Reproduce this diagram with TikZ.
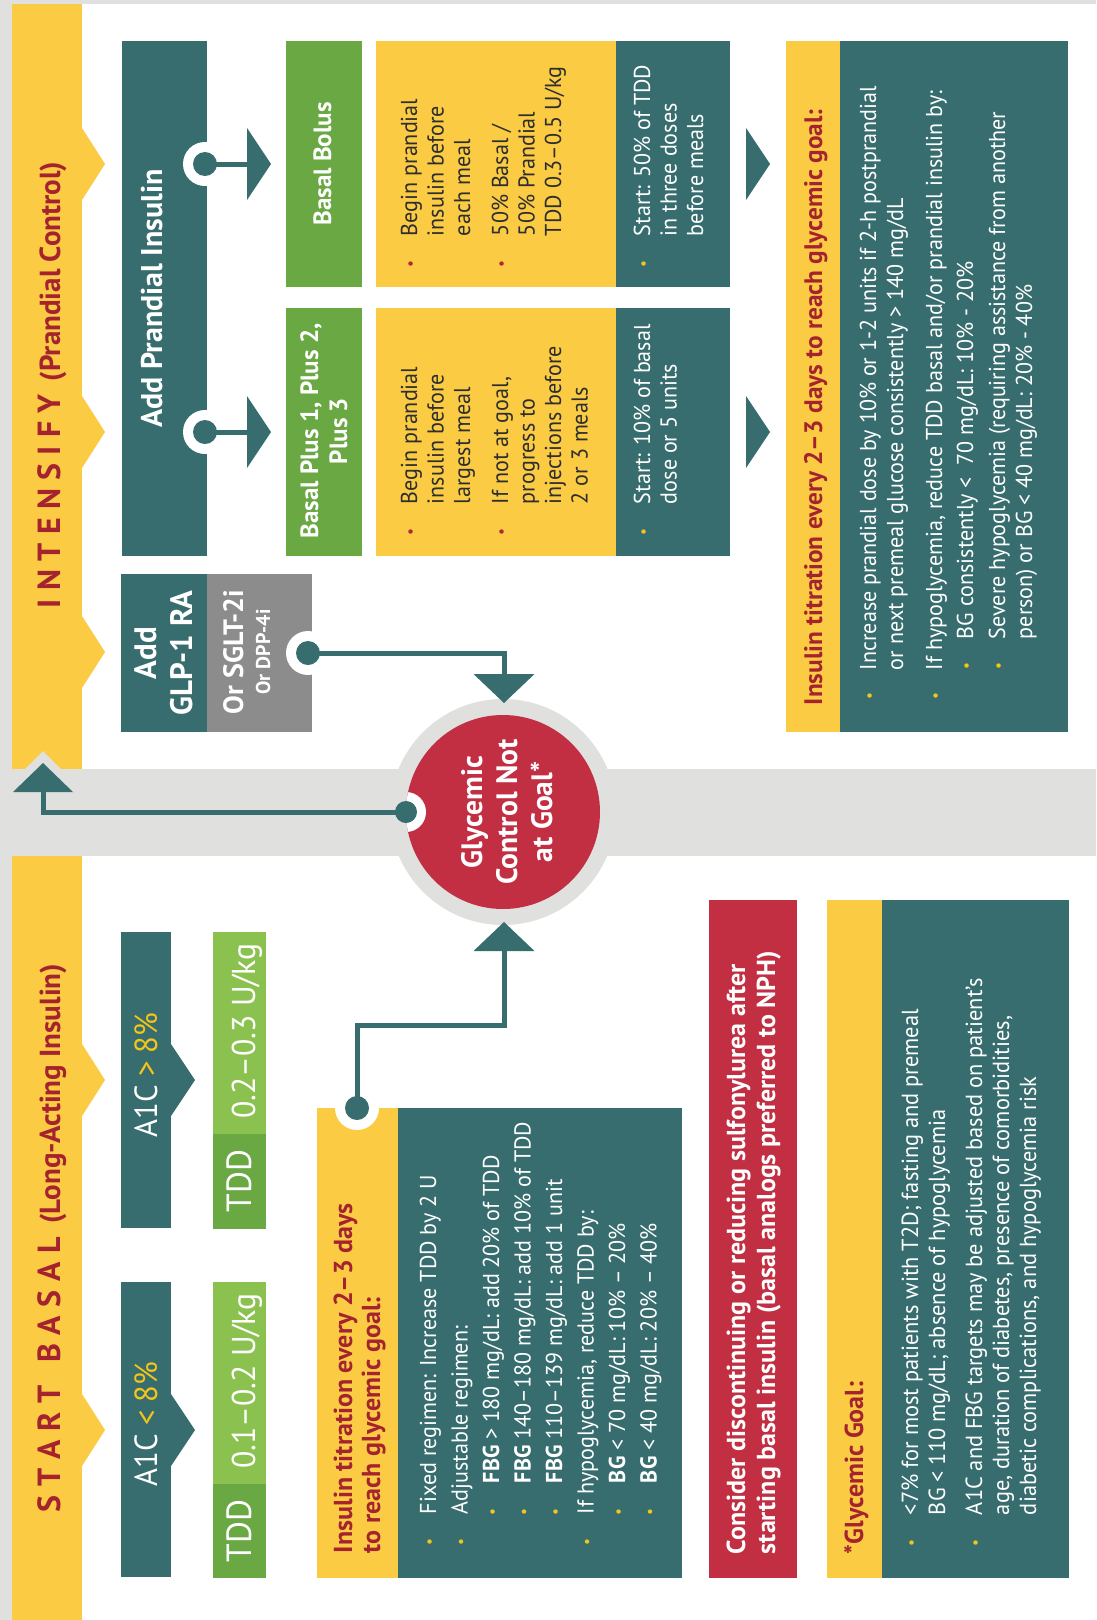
\documentclass[tikz,border=0pt]{standalone}
\usepackage{fontspec}
\setmainfont{PT Sans}[FakeStretch=0.96]
\newfontfamily\hdfont{PT Sans}
\definecolor{cTeal}{HTML}{376D6E}
\definecolor{cYel}{HTML}{FACB43}
\definecolor{cGreen}{HTML}{6AA843}
\definecolor{cLGreen}{HTML}{8BC24F}
\definecolor{cGray}{HTML}{8C8C8C}
\definecolor{cRed}{HTML}{C22F43}
\definecolor{cDRed}{HTML}{A5232F}
\definecolor{cBand}{HTML}{E0E0DE}
\definecolor{cBulY}{HTML}{F5C518}
\definecolor{cBulR}{HTML}{B3233A}
\definecolor{cInk}{HTML}{2E2E2E}
\newcommand\fs[2]{\fontsize{#1pt}{#2pt}\selectfont}
\newcommand\dotb[1]{\hbox to 0pt{\hss\textcolor{#1}{\fs{16}{16}\raisebox{1.5pt}{\textbullet}}\hss}}
\newcommand\Lines[2]{\vtop{\baselineskip=#1\lineskiplimit=-1000pt\relax #2}}
\newcommand\CL[1]{\hbox to 0pt{\hss#1\hss}}
\newdimen\dA \newdimen\dB \newdimen\dC
\newcommand\Itm[2][cBulY]{\hbox{\dotb{#1}\hskip\dA #2}}
\newcommand\Cnt[1]{\hbox{\hskip\dA #1}}
\newcommand\Sub[2][cBulY]{\hbox{\hskip\dB\dotb{#1}\hskip\dC #2}}
\newcommand\SubC[1]{\hbox{\hskip\dB\hskip\dC #1}}
\newcommand\bx[6]{\node[box,fill=#2,minimum width={#5-#3},minimum height={#6-#4}] (#1) at ({(#3+#5)/2},{(#4+#6)/2}) {};}
\begin{document}
\begin{tikzpicture}[x=1pt,y=-1pt,
  box/.style={rectangle,draw=none,inner sep=0pt,outer sep=0pt},
  rt/.style={rotate=90,inner sep=0pt,outer sep=0pt},
  conn/.style={draw=cTeal,line width=5pt},
  tip/.style={fill=cTeal},
  notch/.style={fill=white},
  knob/.style={fill=cTeal}]
\useasboundingbox (0,0) rectangle (1096,1620);
% background
\fill[white] (0,0) rectangle (1096,1620);
\fill[cBand] (0,0) rectangle (12,1620);
\fill[cBand] (0,0) rectangle (1096,4);
\fill[cBand] (12,769) rectangle (1096,856);
% yellow strip with chevrons
\fill[cYel] (12,4) rectangle (82,769);
\fill[cYel] (12,856) rectangle (82,1620);
\foreach \c in {164,432,652,1080,1430}{\fill[cYel] (82,\c-36) -- (105,\c) -- (82,\c+36) -- cycle;}
% arrow halo
\fill[cBand] (43,751) -- (84,792) -- (2,792) -- cycle;
% goal circle
\node[circle,fill=cBand,minimum size=226pt,inner sep=0pt] (ring) at (503,812) {};
\node[circle,fill=cRed,minimum size=194pt,inner sep=0pt] (goal) at (503,812) {};
% boxes
\bx{prand}{cTeal}{122}{41}{207}{556}
\bx{glp}{cTeal}{121}{574}{207}{732}
\bx{glpor}{cGray}{207}{574}{312}{732}
\bx{bolusG}{cGreen}{286}{41}{362}{287}
\bx{plusG}{cGreen}{286}{308}{362}{556}
\bx{bolusY}{cYel}{376}{41}{616}{287}
\bx{plusY}{cYel}{376}{308}{616}{556}
\bx{bolusT}{cTeal}{616}{41}{730}{287}
\bx{plusT}{cTeal}{616}{308}{730}{556}
\bx{titrH}{cYel}{786}{41}{840}{732}
\bx{titrB}{cTeal}{840}{41}{1068}{732}
\bx{a1cHi}{cTeal}{121}{932}{171}{1228}
\bx{a1cLo}{cTeal}{121}{1282}{171}{1577}
\fill[cTeal] (171,1044) -- (195,1080) -- (171,1116) -- cycle;
\fill[cTeal] (171,1394) -- (195,1430) -- (171,1466) -- cycle;
\bx{tddHiL}{cLGreen}{213}{932}{266}{1134}
\bx{tddHiD}{cGreen}{213}{1134}{266}{1229}
\bx{tddLoL}{cLGreen}{213}{1282}{266}{1484}
\bx{tddLoD}{cGreen}{213}{1484}{266}{1578}
\bx{lowH}{cYel}{317}{1108}{398}{1578}
\bx{lowB}{cTeal}{398}{1108}{682}{1578}
\bx{redB}{cRed}{709}{900}{797}{1578}
\bx{goalH}{cYel}{827}{900}{882}{1578}
\bx{goalB}{cTeal}{882}{900}{1069}{1578}
% connector points
\coordinate (d1) at (205,164);
\coordinate (d2) at (205,432);
\coordinate (d3) at (308,653);
\coordinate (d4) at (406,812);
\coordinate (d5) at (357,1108);
\coordinate (a1) at (247,164);
\coordinate (a2) at (247,432);
\coordinate (a3) at (504,674);
\coordinate (a4) at (43,792);
\coordinate (a5) at (504,951);
% notches
\foreach \p in {d1,d2,d3,d5}{\fill[notch] (\p) circle (22);}
\begin{scope}
\clip (503,812) circle (97);
\fill[notch] (d4) circle (20);
\end{scope}
% connectors
\draw[conn] (d1) -- (a1);
\draw[conn] (d2) -- (a2);
\draw[conn] (d3) -| (a3);
\draw[conn] (d4) -| (a4);
\draw[conn] (d5) |- (504,1025) -- (a5);
\foreach \p in {d1,d2,d3,d5}{\fill[knob] (\p) circle (12);}
\fill[knob] (d4) circle (11);
% arrowheads
\fill[tip] (247,128) -- (271,164) -- (247,200) -- cycle;
\fill[tip] (247,396) -- (271,432) -- (247,468) -- cycle;
\fill[tip] (746,128) -- (770,164) -- (746,200) -- cycle;
\fill[tip] (746,396) -- (770,432) -- (746,468) -- cycle;
\fill[tip] (473.5,674) -- (534.5,674) -- (504,703) -- cycle;
\fill[tip] (13,792) -- (73,792) -- (43,763) -- cycle;
\fill[tip] (473.5,951) -- (534.5,951) -- (504,922) -- cycle;
% titles
\node[rt,anchor=base west,text=cDRed] (t1) at (60,608) {\hdfont\bfseries\fs{32}{32}I\kern8.3pt N\kern8.3pt T\kern8.3pt E\kern8.3pt N\kern8.3pt S\kern8.3pt I\kern8.3pt F\kern8.3pt Y\hskip13pt\fs{29}{29}(Prandial Control)};
\node[rt,anchor=base west,text=cDRed] (t2) at (60,1512) {\hdfont\bfseries\fs{32}{32}S\kern8.8pt T\kern8.8pt A\kern8.8pt R\kern8.8pt T\hskip22pt B\kern8.8pt A\kern8.8pt S\kern8.8pt A\kern8.8pt L\hskip13pt\fs{29}{29}(Long-Acting Insulin)};
% intensify labels
\node[rt,anchor=base,text=white] (t3) at (162,298.5) {\hdfont\bfseries\fs{30}{30}Add Prandial Insulin};
\node[rt,anchor=base,text=white] (t4) at (331,164) {\hdfont\bfseries\fs{25}{25}Basal Bolus};
\node[rt,anchor=base,text=white] (t5) at (318,431) {\hdfont\bfseries\fs{25}{29}\Lines{29pt}{\CL{Basal Plus 1, Plus 2,}\CL{Plus 3}}};
\node[rt,anchor=base,text=white] (t6) at (156,653) {\hdfont\bfseries\fs{31}{36}\Lines{36pt}{\CL{Add}\CL{GLP-1 RA}}};
\node[rt,anchor=base,text=white] (t7) at (243,652) {\hdfont\bfseries\fs{28}{28}Or SGLT-2i};
\node[rt,anchor=base,text=white] (t8) at (270,652) {\hdfont\bfseries\fs{20}{20}Or DPP-4i};
\node[rt,anchor=base,text=white] (t9) at (482,812) {\hdfont\bfseries\fs{29.5}{35}\Lines{35pt}{\CL{Glycemic}\CL{Control Not}\CL{at Goal*}}};
% yellow / teal lists
\node[rt,anchor=base west,text=cInk] (t10) at (417,264) {\fs{23}{26.5}\dA=28pt\Lines{26.5pt}{%
\Itm[cBulR]{Begin prandial}\Cnt{insulin before}\Cnt{each meal}\vskip11.5pt
\Itm[cBulR]{50\% Basal /}\Cnt{50\% Prandial}\Cnt{TDD 0.3–0.5 U/kg}}};
\node[rt,anchor=base west,text=cInk] (t11) at (417,532) {\fs{23}{26.5}\dA=28pt\Lines{26.5pt}{%
\Itm[cBulR]{Begin prandial}\Cnt{insulin before}\Cnt{largest meal}\vskip11.5pt
\Itm[cBulR]{If not at goal,}\Cnt{progress to}\Cnt{injections before}\Cnt{2 or 3 meals}}};
\node[rt,anchor=base west,text=white] (t12) at (650,264) {\fs{23}{26.5}\dA=28pt\Lines{26.5pt}{%
\Itm{Start: 50\% of TDD}\Cnt{in three doses}\Cnt{before meals}}};
\node[rt,anchor=base west,text=white] (t13) at (650,532) {\fs{23}{26.5}\dA=28pt\Lines{26.5pt}{%
\Itm{Start: 10\% of basal}\Cnt{dose or 5 units}}};
% right titration
\node[rt,anchor=base west,text=cDRed] (t14) at (822,705) {\hdfont\bfseries\fs{25.3}{26}Insulin titration every 2–3 days to reach glycemic goal:};
\node[rt,anchor=base west,text=white] (t15) at (876,696) {\fs{23}{27}\dA=26pt\dB=30pt\dC=27pt\Lines{27pt}{%
\Itm{Increase prandial dose by 10\% or 1-2 units if 2-h postprandial}%
\Cnt{or next premeal glucose consistently > 140 mg/dL}\vskip12pt
\Itm{If hypoglycemia, reduce TDD basal and/or prandial insulin by:}\vskip4pt
\Sub{BG consistently <\ \ 70 mg/dL: 10\% - 20\%}\vskip5pt
\Sub{Severe hypoglycemia (requiring assistance from another}%
\SubC{person) or BG < 40 mg/dL: 20\% - 40\%}}};
% start basal
\node[rt,anchor=base,text=white] (t16) at (157,1075) {\fs{32}{32}A1C \textcolor{cBulY}{> 8\%}};
\node[rt,anchor=base,text=white] (t17) at (157,1424) {\fs{32}{32}A1C \textcolor{cBulY}{< 8\%}};
\node[rt,anchor=base,text=white] (t18) at (251,1181) {\fs{35}{35}TDD};
\node[rt,anchor=base,text=white] (t19) at (255,1031) {\fs{33}{33}0.2–0.3 U/kg};
\node[rt,anchor=base,text=white] (t20) at (251,1531) {\fs{35}{35}TDD};
\node[rt,anchor=base,text=white] (t21) at (255,1381) {\fs{33}{33}0.1–0.2 U/kg};
\node[rt,anchor=base west,text=cDRed] (t22) at (352,1553) {\hdfont\bfseries\fs{26}{28}\Lines{28pt}{\hbox{Insulin titration every 2–3 days}\hbox{to reach glycemic goal:}}};
\node[rt,anchor=base west,text=white] (t23) at (436,1542) {\fs{23}{31.5}\dA=28pt\dB=30pt\dC=29pt\Lines{31.5pt}{%
\Itm{Fixed regimen: Increase TDD by 2 U}%
\Itm{Adjustable regimen:}%
\Sub{\textbf{FBG} > 180 mg/dL: add 20\% of TDD}%
\Sub{\textbf{FBG} 140–180 mg/dL: add 10\% of TDD}%
\Sub{\textbf{FBG} 110–139 mg/dL: add 1 unit}%
\Itm{If hypoglycemia, reduce TDD by:}%
\Sub{\textbf{BG} < 70 mg/dL: 10\% – 20\%}%
\Sub{\textbf{BG} < 40 mg/dL: 20\% – 40\%}}};
\node[rt,anchor=base west,text=white] (t24) at (745,1554) {\hdfont\bfseries\fs{26}{30}\Lines{30pt}{\hbox{Consider discontinuing or reducing sulfonylurea after}\hbox{starting basal insulin (basal analogs preferred to NPH)}}};
\node[rt,anchor=base west,text=cDRed] (t25) at (863,1554) {\hdfont\bfseries\fs{26}{26}*Glycemic Goal:};
\node[rt,anchor=base west,text=white] (t26) at (918,1543) {\fs{23.3}{27}\dA=28pt\Lines{27pt}{%
\Itm{<7\% for most patients with T2D; fasting and premeal}%
\Cnt{BG < 110 mg/dL; absence of hypoglycemia}\vskip10pt
\Itm{A1C and FBG targets may be adjusted based on patient’s}%
\Cnt{age, duration of diabetes, presence of comorbidities,}%
\Cnt{diabetic complications, and hypoglycemia risk}}};
\end{tikzpicture}
\end{document}
